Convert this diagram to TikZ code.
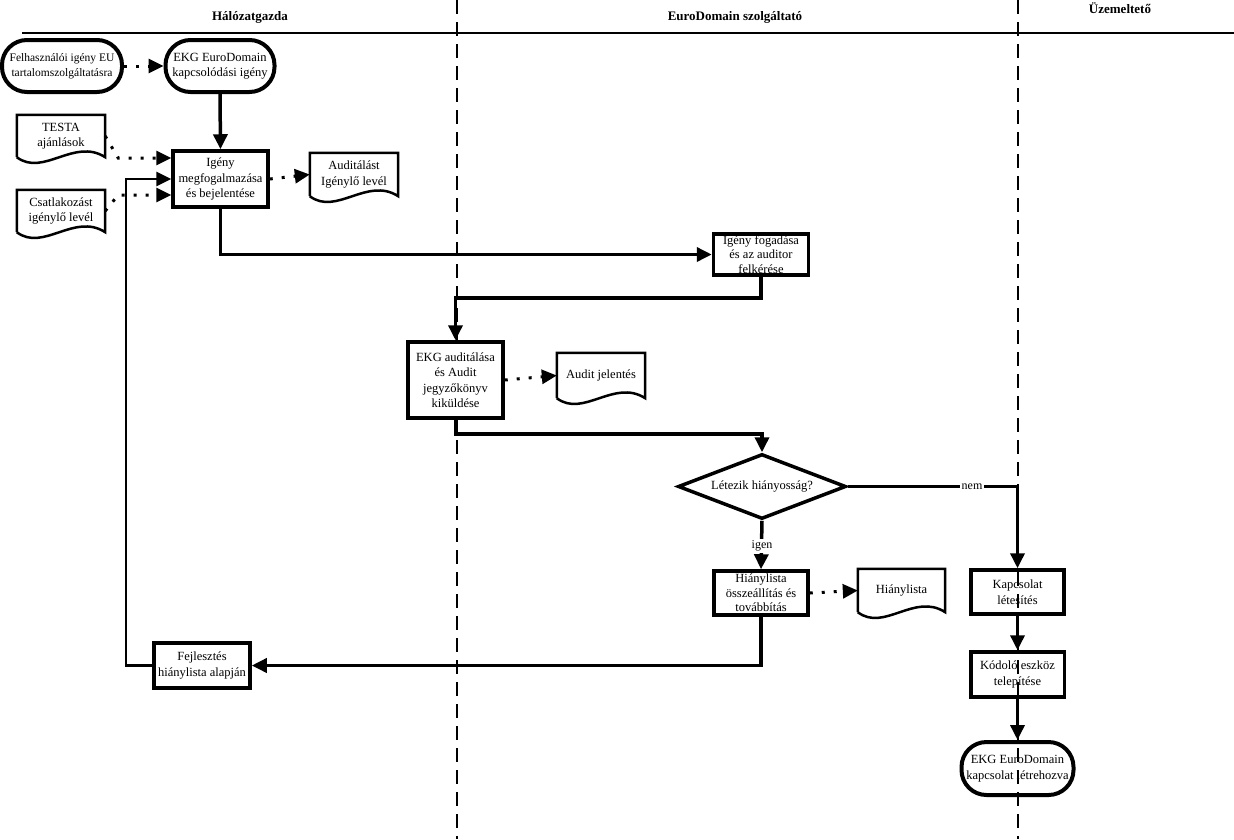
\documentclass[tikz,border=0pt]{standalone}
\usepackage{fontspec}
\setmainfont{Liberation Serif}
\usetikzlibrary{arrows.meta,shapes.geometric,calc}
\newcommand\docwave[1]{%
  \draw[line width=2.5pt,line join=miter] (#1.south west) -- (#1.north west) -- (#1.north east) -- (#1.south east)
    .. controls ($(#1.south east)!0.35!(#1.south west)+(0,-20)$) and ($(#1.south east)!0.7!(#1.south west)+(0,20)$) .. (#1.south west);}
\newcommand\thickleft[1]{%
  \draw[line width=4pt] ([xshift=2pt]#1.north west) -- ([xshift=2pt]#1.south west);}
\begin{document}
\begin{tikzpicture}[x=1pt,y=-1pt,
  txt/.style={font=\fontsize{12.5}{15.5}\selectfont, align=center, inner sep=0pt},
  proc/.style={txt, draw, fill=white, line width=3.5pt, rectangle},
  term/.style={txt, draw, fill=white, line width=4pt, rectangle, rounded corners=25pt},
  docnode/.style={txt, rectangle, minimum width=88pt},
  decision/.style={txt, draw, fill=white, line width=3.5pt, diamond, aspect=2.6, minimum width=168pt, minimum height=65pt},
  flow/.style={line width=3.5pt, -{Triangle[length=15pt,width=14pt]}},
  fback/.style={line width=2.8pt, -{Triangle[length=15pt,width=14pt]}},
  dotflow/.style={line width=3pt, dash pattern=on 3pt off 9pt, -{Triangle[length=15pt,width=14pt]}},
  lane/.style={line width=2.5pt, dash pattern=on 14pt off 8pt},
  head/.style={font=\fontsize{13}{15}\selectfont\bfseries, inner sep=0pt},
  lbl/.style={font=\fontsize{12}{14}\selectfont, fill=white, inner sep=2pt}
]
\useasboundingbox (0,0) rectangle (1234,839);

% header
\draw[line width=2.5pt] (22,33) -- (1234,33);
\node[head] (h1) at (250,17) {Hálózatgazda};
\node[head] (h2) at (735,17) {EuroDomain szolgáltató};
\node[head] (h3) at (1120,8) {Üzemeltető};

% left lane
\draw[lane] (457,0) -- (457,839);

% nodes
\node[term, minimum width=120pt, minimum height=52pt, font=\fontsize{11.5}{15}\selectfont] (f1) at (62,66) {Felhasználói igény EU\\tartalomszolgáltatásra};
\node[term, minimum width=109pt, minimum height=52pt] (t1) at (220,66) {EKG EuroDomain\\kapcsolódási igény};
\node[docnode, minimum height=42pt] (testa) at (61,136) {TESTA\\ajánlások};
\node[docnode, minimum height=42pt] (csatl) at (61,211) {Csatlakozást\\igénylő levél};
\node[proc, minimum width=95pt, minimum height=56pt] (igeny) at (220.5,179) {Igény\\megfogalmazása\\és bejelentése};
\node[docnode, minimum height=43pt] (audlev) at (354,174.5) {Auditálást\\Igénylő levél};
\node[proc, minimum width=95pt, minimum height=41pt, font=\fontsize{12.5}{14.5}\selectfont] (fogad) at (761,254.5) {Igény fogadása\\és az auditor\\felkérése};
\node[proc, minimum width=95pt, minimum height=76pt] (audit) at (455.5,380) {EKG auditálása\\és Audit\\jegyzőkönyv\\kiküldése};
\node[docnode, minimum height=45pt] (audjel) at (601,375.5) {Audit jelentés};
\node[decision] (dec) at (762,486.5) {Létezik hiányosság?};
\node[proc, minimum width=94pt, minimum height=44pt, font=\fontsize{12.5}{14.5}\selectfont] (hiany) at (761,593) {Hiánylista\\összeállítás és\\továbbítás};
\node[docnode, minimum width=87pt, minimum height=43pt] (hdoc) at (901.5,590.5) {Hiánylista};
\node[proc, minimum width=93pt, minimum height=44pt, fill=none] (kapcs) at (1017.5,592) {Kapcsolat\\létesítés};
\node[proc, minimum width=96pt, minimum height=45pt] (fejl) at (202,665.5) {Fejlesztés\\hiánylista alapján};
\node[proc, minimum width=94pt, minimum height=45pt, fill=none] (kodolo) at (1017.5,674.5) {Kódoló eszköz\\telepítése};
\node[term, minimum width=112pt, minimum height=53pt, fill=none] (vege) at (1017.5,768.5) {EKG EuroDomain\\kapcsolat létrehozva};

% document shapes and thick edges
\docwave{testa}
\docwave{csatl}
\docwave{audlev}
\docwave{audjel}
\docwave{hdoc}
\thickleft{audit}
\thickleft{kapcs}
\thickleft{kodolo}

% connectors
\draw[dotflow] (f1.east) -- (t1.west);
\draw[flow] (t1.south) -- (igeny.north);
\draw[dotflow] (testa.east) -- ++(13,22) coordinate (ta) -- (ta -| igeny.west);
\draw[dotflow] (csatl.east) -- ++(13,-16) coordinate (ca) -- (ca -| igeny.west);
\draw[dotflow] (igeny.east) -- (audlev.west);
\draw[flow] (igeny.south) |- (fogad.west);
\draw[flow] (fogad.south) -- ++(0,21) -| (audit.north);
\draw[dotflow] (audit.east) -- (audjel.west);
\draw[flow] (audit.south) -- ++(0,14) -| (dec.north);
\draw[flow] (dec.east) -| (kapcs.north);
\node[lbl] (nem) at (972,486.5) {nem};
\draw[flow] (dec.south) -- (hiany.north);
\node[lbl] (igen) at (762,546) {igen};
\draw[dotflow] (hiany.east) -- (hdoc.west);
\draw[flow] (hiany.south) |- (fejl.east);
\coordinate (fb) at (126,179);
\draw[fback] (fejl.west) -| (fb) -- (fb -| igeny.west);
\draw[flow] (kapcs.south) -- (kodolo.north);
\draw[flow] (kodolo.south) -- (vege.north);

% right lane on top
\draw[lane] (1018,0) -- (1018,839);
\end{tikzpicture}
\end{document}
